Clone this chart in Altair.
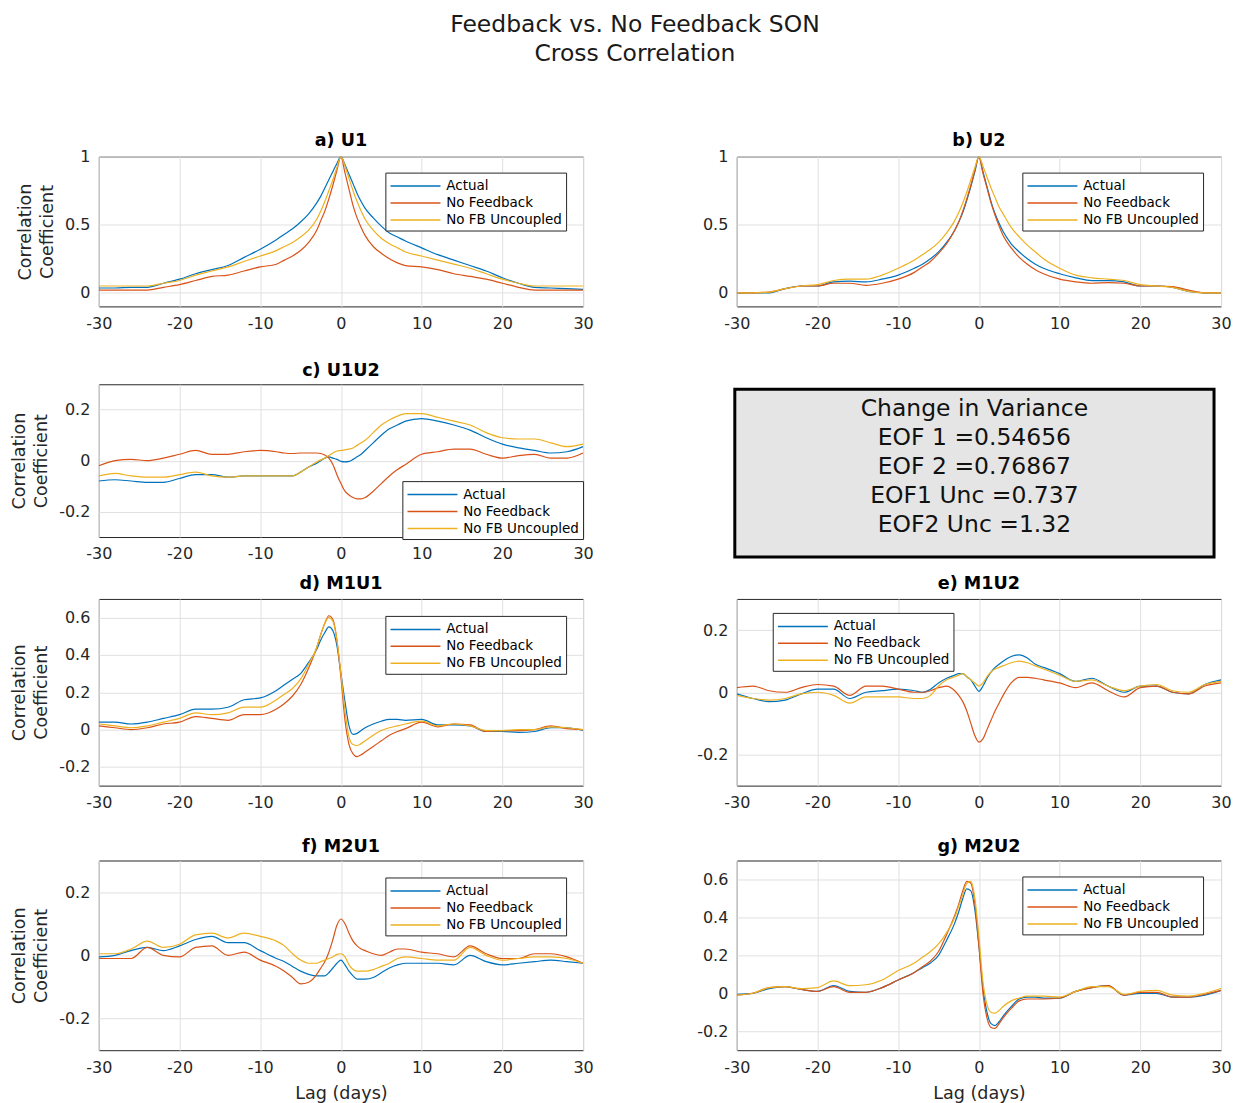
import altair as alt
import pandas as pd

FONT = "DejaVu Sans"
AX = "#262626"

LAGS = [-30, -28, -26, -24, -22, -20, -18, -16, -14, -12, -10, -8, -7, -6, -5, -4, -3, -2.5, -2, -1.5,
        -1, -0.5, 0, 0.5, 1, 1.5, 2, 2.5, 3, 4, 5, 6, 7, 8, 10, 12, 14, 16, 18, 20, 22, 24, 26, 28, 30]
XTICKS = [-30, -20, -10, 0, 10, 20, 30]
SERIES = ["Actual", "No Feedback", "No FB Uncoupled"]
COLORS = ["#0072BD", "#D95319", "#EDB120"]

# a) U1
A_ACT = [.035, .035, .04, .04, .07, .1, .14, .17, .2, .26, .32, .39, .43, .47, .52, .58, .66, .71, .77, .83,
         .89, .95, 1.0, .94, .87, .8, .73, .67, .62, .55, .49, .44, .41, .38, .33, .28, .24, .2, .16, .11, .07, .04, .035, .03, .025]
A_NOFB = [.02, .02, .02, .02, .04, .06, .09, .12, .13, .16, .19, .21, .24, .27, .31, .37, .46, .53, .6, .69,
          .79, .9, 1.0, .88, .76, .64, .55, .48, .42, .34, .29, .25, .22, .2, .19, .17, .14, .12, .1, .07, .04, .02, .02, .02, .02]
A_UNC = [.05, .05, .05, .05, .07, .09, .13, .16, .19, .23, .27, .31, .34, .37, .41, .46, .54, .6, .67, .75,
         .83, .92, 1.0, .93, .84, .75, .67, .6, .54, .46, .4, .36, .33, .3, .27, .24, .21, .18, .14, .1, .07, .05, .05, .05, .05]
# b) U2
B_ACT = [0, 0, 0, .03, .05, .05, .08, .085, .08, .1, .13, .18, .21, .25, .3, .37, .46, .52, .59, .68,
         .78, .89, 1.0, .89, .78, .67, .58, .51, .45, .36, .3, .25, .21, .18, .14, .11, .09, .09, .08, .05, .05, .04, .01, 0, 0]
B_NOFB = [0, 0, .005, .03, .05, .05, .07, .07, .055, .07, .1, .15, .19, .23, .29, .36, .46, .52, .6, .69,
          .79, .9, 1.0, .88, .77, .66, .57, .49, .42, .33, .26, .21, .17, .14, .1, .08, .07, .075, .07, .05, .05, .045, .02, 0, 0]
B_UNC = [0, 0, .005, .03, .05, .06, .09, .1, .1, .13, .18, .24, .28, .32, .37, .44, .53, .59, .66, .74,
         .83, .92, 1.0, .93, .85, .77, .7, .63, .58, .48, .41, .35, .3, .25, .18, .13, .11, .1, .09, .06, .05, .04, .01, 0, 0]
# c) U1U2
C_ACT = [-.08, -.075, -.08, -.085, -.085, -.07, -.055, -.055, -.065, -.06, -.06, -.06, -.06, -.06, -.045, -.025, -.01, 0, .01, .015,
         .01, .005, -.003, -.005, -.003, .005, .015, .025, .04, .07, .1, .125, .14, .155, .165, .155, .14, .12, .09, .065, .05, .04, .03, .035, .055]
C_NOFB = [-.02, 0, .005, 0, .01, .025, .04, .025, .025, .035, .04, .035, .03, .028, .03, .03, .03, .028, .022, .01,
          -.015, -.055, -.09, -.12, -.135, -.145, -.15, -.15, -.145, -.12, -.09, -.06, -.035, -.015, .025, .035, .045, .045, .025, .01, .02, .025, .01, .01, .03]
C_UNC = [-.06, -.05, -.06, -.065, -.065, -.055, -.045, -.06, -.065, -.06, -.06, -.06, -.06, -.06, -.045, -.025, -.005, .003, .01, .02,
         .03, .038, .04, .042, .045, .05, .06, .07, .08, .11, .14, .16, .175, .185, .185, .17, .155, .14, .11, .09, .085, .085, .07, .055, .065]
# d) M1U1
D_ACT = [.04, .04, .03, .04, .06, .08, .11, .11, .12, .16, .17, .21, .24, .27, .3, .36, .43, .48, .52, .55,
         .53, .45, .3, .15, .02, -.025, -.02, -.005, .01, .03, .045, .055, .055, .05, .055, .025, .025, .02, -.01, -.01, -.015, -.01, .01, .01, -.005]
D_NOFB = [.02, .01, 0, .01, .03, .04, .07, .06, .05, .08, .08, .11, .14, .18, .24, .33, .44, .51, .57, .61,
          .59, .48, .28, .05, -.08, -.13, -.145, -.135, -.12, -.09, -.06, -.03, -.01, .005, .04, .015, .03, .025, -.01, -.005, -.005, 0, .02, .005, 0]
D_UNC = [.03, .02, .01, .02, .04, .06, .09, .08, .09, .12, .12, .16, .19, .22, .27, .35, .44, .51, .57, .6,
         .58, .48, .3, .1, -.04, -.08, -.085, -.075, -.06, -.03, -.005, .01, .02, .03, .045, .02, .03, .02, -.005, -.005, 0, 0, .015, .01, 0]
# e) M1U2
E_ACT = [-.005, -.02, -.03, -.025, -.005, .01, .01, -.02, 0, .005, .01, .005, 0, .01, .03, .045, .055, .06, .06, .05,
         .04, .02, .003, .02, .045, .065, .08, .09, .1, .115, .12, .11, .09, .08, .06, .035, .045, .02, 0, .02, .02, 0, -.005, .025, .04]
E_NOFB = [.015, .02, .005, 0, .015, .025, .02, -.01, .02, .02, .01, 0, 0, .005, .015, .02, .005, -.01, -.03, -.06,
          -.1, -.14, -.16, -.15, -.12, -.09, -.06, -.035, -.01, .03, .048, .048, .045, .04, .03, .015, .03, .005, -.015, .015, .02, 0, -.005, .02, .03]
E_UNC = [-.01, -.02, -.025, -.02, -.005, 0, -.01, -.035, -.015, -.015, -.015, -.02, -.02, -.01, .02, .04, .05, .055, .06, .05,
         .04, .03, .02, .03, .05, .065, .075, .08, .085, .095, .1, .095, .085, .075, .055, .035, .04, .02, .005, .02, .025, .005, 0, .025, .035]
# f) M2U1
F_ACT = [-.005, 0, .015, .025, .015, .03, .05, .06, .04, .04, .015, -.01, -.02, -.035, -.05, -.06, -.065, -.065, -.065, -.055,
         -.04, -.025, -.015, -.03, -.05, -.065, -.075, -.075, -.075, -.07, -.055, -.04, -.03, -.025, -.025, -.025, -.03, 0, -.02, -.03, -.025, -.02, -.015, -.02, -.025]
F_NOFB = [-.01, -.01, -.01, .025, 0, -.005, .025, .03, 0, .01, -.015, -.035, -.05, -.07, -.09, -.085, -.06, -.04, -.02, .01,
          .05, .095, .115, .1, .07, .045, .03, .02, .015, .005, 0, .01, .02, .02, .01, .005, -.005, .03, .005, -.01, -.01, .005, .005, -.005, -.025]
F_UNC = [.005, .005, .02, .045, .025, .035, .065, .07, .055, .07, .06, .045, .03, .005, -.015, -.025, -.025, -.02, -.015, -.01,
         -.005, .003, .005, -.005, -.03, -.045, -.05, -.05, -.05, -.045, -.035, -.025, -.01, -.005, -.01, -.015, -.015, .025, 0, -.015, -.01, -.005, -.005, -.01, -.025]
# g) M2U2
G_ACT = [-.005, 0, .025, .035, .02, .01, .04, .01, .005, .03, .07, .11, .135, .16, .2, .28, .37, .43, .5, .55,
         .54, .44, .25, .03, -.1, -.16, -.17, -.15, -.12, -.07, -.03, -.02, -.02, -.025, -.025, .01, .03, .04, -.01, 0, 0, -.02, -.02, -.01, .015]
G_NOFB = [-.01, 0, .03, .035, .02, .01, .035, .005, .005, .03, .07, .11, .14, .17, .22, .31, .41, .47, .54, .59,
          .58, .47, .25, 0, -.13, -.18, -.185, -.16, -.13, -.08, -.04, -.03, -.03, -.03, -.025, .01, .03, .04, -.01, .005, .005, -.02, -.02, -.005, .015]
G_UNC = [-.01, 0, .03, .035, .025, .03, .065, .04, .045, .07, .12, .16, .19, .22, .26, .32, .4, .46, .52, .58,
         .59, .5, .3, .06, -.06, -.1, -.105, -.09, -.07, -.04, -.025, -.015, -.015, -.015, -.02, .01, .035, .035, -.005, .01, .015, -.01, -.015, 0, .025]

BOX_LINES = ["Change in Variance", "EOF 1 =0.54656", "EOF 2 =0.76867", "EOF1 Unc =0.737", "EOF2 Unc =1.32"]
MAIN_TITLE = ["Feedback vs. No Feedback SON", "Cross Correlation"]

W = 485
GAP = 154
ROW_SPACING = 62
# cell heights (plot height + extra room below it) for each row of the grid
CELL_H = [166, 153, 200, 190]


def panel(title, vals, ydom, yticks, lx, ly, height, ytitle, xtitle, toff):
    rows = []
    for name, vv in zip(SERIES, vals):
        assert len(vv) == len(LAGS), (title, name, len(vv))
        for lag, v in zip(LAGS, vv):
            rows.append({"lag": lag, "value": v, "series": name})
    df = pd.DataFrame(rows)
    xax = dict(values=XTICKS, labelExpr="'' + datum.value")
    if xtitle:
        xax["title"] = "Lag (days)"
        xax["titlePadding"] = 9
    else:
        xax["title"] = None
    yax = dict(values=yticks, labelExpr="'' + datum.value")
    if ytitle:
        yax["title"] = ["Correlation", "Coefficient"]
        yax["titleLineHeight"] = 22
        yax["titlePadding"] = 8
    else:
        yax["title"] = None
    return alt.Chart(df).mark_line(strokeWidth=1.2, interpolate="monotone", clip=True).encode(
        x=alt.X("lag:Q", scale=alt.Scale(domain=[-30, 30], nice=False, zero=False), axis=alt.Axis(**xax)),
        y=alt.Y("value:Q", scale=alt.Scale(domain=ydom, nice=False, zero=False), axis=alt.Axis(**yax)),
        color=alt.Color("series:N", scale=alt.Scale(domain=SERIES, range=COLORS),
                        legend=alt.Legend(orient="none", legendX=lx, legendY=ly, title=None)),
    ).properties(width=W, height=height,
                 title=alt.TitleParams(title, fontSize=17.6, fontWeight="bold", font=FONT,
                                       color="black", offset=toff))


def spacer(h):
    d = pd.DataFrame({"t": [""]})
    return alt.Chart(d).mark_text(opacity=0).encode(
        x=alt.value(0), y=alt.value(0), text="t:N"
    ).properties(width=GAP, height=h, view=alt.ViewBackground(stroke="transparent"))


pa = panel("a) U1", [A_ACT, A_NOFB, A_UNC], [-0.1, 1], [0, 0.5, 1], 287, 16, 150, True, False, -1)
pb = panel("b) U2", [B_ACT, B_NOFB, B_UNC], [-0.1, 1], [0, 0.5, 1], 286, 16, 150, False, False, -1)
pc = panel("c) U1U2", [C_ACT, C_NOFB, C_UNC], [-0.3, 0.3], [-0.2, 0, 0.2], 304, 97, 153, True, False, 5)
pd_ = panel("d) M1U1", [D_ACT, D_NOFB, D_UNC], [-0.3, 0.7], [-0.2, 0, 0.2, 0.4, 0.6], 287, 17, 187, True, False, 6)
pe = panel("e) M1U2", [E_ACT, E_NOFB, E_UNC], [-0.3, 0.3], [-0.2, 0, 0.2], 36, 14, 187, False, False, 6)
pf = panel("f) M2U1", [F_ACT, F_NOFB, F_UNC], [-0.3, 0.3], [-0.2, 0, 0.2], 287, 17, 190, True, True, 5)
pg = panel("g) M2U2", [G_ACT, G_NOFB, G_UNC], [-0.3, 0.7], [-0.2, 0, 0.2, 0.4, 0.6], 286, 16, 190, False, True, 5)

box_df = pd.DataFrame({"label": ["\n".join(BOX_LINES)]})
rect = alt.Chart(box_df).mark_rect(fill="#e5e5e5", stroke="black", strokeWidth=3).encode(
    x=alt.value(-2), x2=alt.value(478), y=alt.value(5), y2=alt.value(173))
txt = alt.Chart(box_df).mark_text(lineBreak="\n", fontSize=23.5, lineHeight=29, font=FONT,
                                  color="#111111", align="center", baseline="middle").encode(
    x=alt.value(238), y=alt.value(25), text="label:N")
box = alt.layer(rect, txt).properties(width=W, height=153, view=alt.ViewBackground(stroke="transparent"))

cells = [pa, spacer(CELL_H[0]), pb,
         pc, spacer(CELL_H[1]), box,
         pd_, spacer(CELL_H[2]), pe,
         pf, spacer(CELL_H[3]), pg]

chart = alt.concat(*cells, columns=3, bounds="flush", align="each",
                   spacing={"row": ROW_SPACING, "column": 0}).resolve_scale(
    color="independent").resolve_legend(color="independent").properties(
    title=alt.TitleParams(MAIN_TITLE, fontSize=23.5, fontWeight="normal", font=FONT, color="#1a1a1a",
                          anchor="middle", lineHeight=29, offset=66, dx=14),
    padding={"left": 10, "top": 12, "right": 2, "bottom": 2},
).configure_view(stroke=AX, strokeWidth=1).configure_axis(
    labelFont=FONT, labelFontSize=16, labelColor=AX, titleFont=FONT, titleFontSize=17.6,
    titleFontWeight="normal", titleColor=AX, gridColor="#e0e0e0", gridWidth=1, domain=False,
    ticks=False, tickSize=0, labelPadding=9, labelFlush=False, labelOverlap=False
).configure_legend(
    symbolType="M-1,0H5", symbolSize=278, symbolStrokeWidth=1.5, labelFontSize=13.5, labelFont=FONT,
    labelColor="black", strokeColor=AX, fillColor="white", padding=4, rowPadding=1, labelOffset=38,
    labelLimit=300
)

chart.save("out.html", embed_options={"renderer": "svg", "actions": False})
